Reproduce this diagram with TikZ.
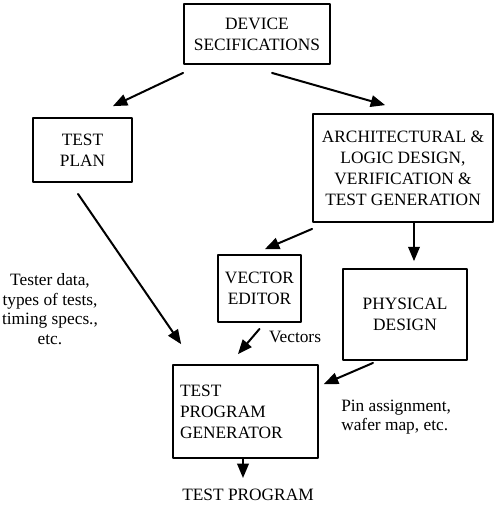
\documentclass[tikz,border=0pt]{standalone}
\usepackage{fontspec}
\setmainfont{Liberation Serif}
\usepackage{tikz}
\usetikzlibrary{arrows}
\usetikzlibrary{positioning}
\usetikzlibrary{calc}

\begin{document}
\begin{tikzpicture}[line cap=round,line join=round,>=triangle 45,x=0.75pt,y=-0.75pt,
box/.style={draw,line width=1.4pt,align=center,inner sep=0pt,font=\fontsize{13}{15.75}\selectfont},
flow/.style={->,line width=1.5pt},
note/.style={align=center,inner sep=0pt,font=\fontsize{13}{14.6}\selectfont}]
\useasboundingbox (0,0) rectangle (496,510);
\node[box,minimum width=109.5pt,minimum height=45pt] (dev) at (257,34) {DEVICE\\SECIFICATIONS};
\node[box,minimum width=74.25pt,minimum height=48pt] (plan) at (82.5,150) {TEST\\PLAN};
\node[box,minimum width=135pt,minimum height=81pt] (arch) at (403,168) {ARCHITECTURAL \&\\LOGIC DESIGN,\\VERIFICATION \&\\TEST GENERATION};
\node[box,minimum width=62.25pt,minimum height=50.25pt] (ve) at (259.5,288.5) {VECTOR\\EDITOR};
\node[box,minimum width=93pt,minimum height=68.25pt] (phys) at (405,314.5) {PHYSICAL\\DESIGN};
\node[box,align=left,text width=98.25pt,inner xsep=5.25pt,minimum height=69.75pt] (tpg) at (245.5,411.5) {TEST\\PROGRAM\\GENERATOR};
\node[note] (out) at (248,495) {TEST PROGRAM};
\node[note] (tester) at (50,309) {Tester data,\\types of tests,\\timing specs.,\\etc.};
\node[note] (vec) at (295,337) {Vectors};
\node[note,align=left,anchor=west] (pin) at (341,417) {Pin assignment,\\wafer map, etc.};
%\draw (0,0) rectangle (496,510);
\draw[flow] ($(dev.south west)+(0,8)$) -- ($(plan.north)+(30.5,-11)$);
\draw[flow] ($(dev.south)+(15,8)$) -- ($(arch.north)+(-18,-8)$);
\draw[flow] ($(plan.south)+(-4.5,11)$) -- ($(tpg.north west)+(9,-20)$);
\draw[flow] ($(arch.south west)+(0,6)$) -- ($(ve.north)+(5.5,-5)$);
\draw[flow] ($(arch.south)+(11,0)$) -- ($(phys.north)+(9,-7)$);
\draw[flow] ($(ve.south)+(0,6)$) -- ($(tpg.north)+(-7.5,-10)$);
\draw[flow] ($(phys.south)+(-32,2)$) -- ($(tpg.north east)+(5,20)$);
\draw[flow] ($(tpg.south)+(-2.5,0)$) -- ($(out.north)+(-5,-11)$);
\end{tikzpicture}
\end{document}
